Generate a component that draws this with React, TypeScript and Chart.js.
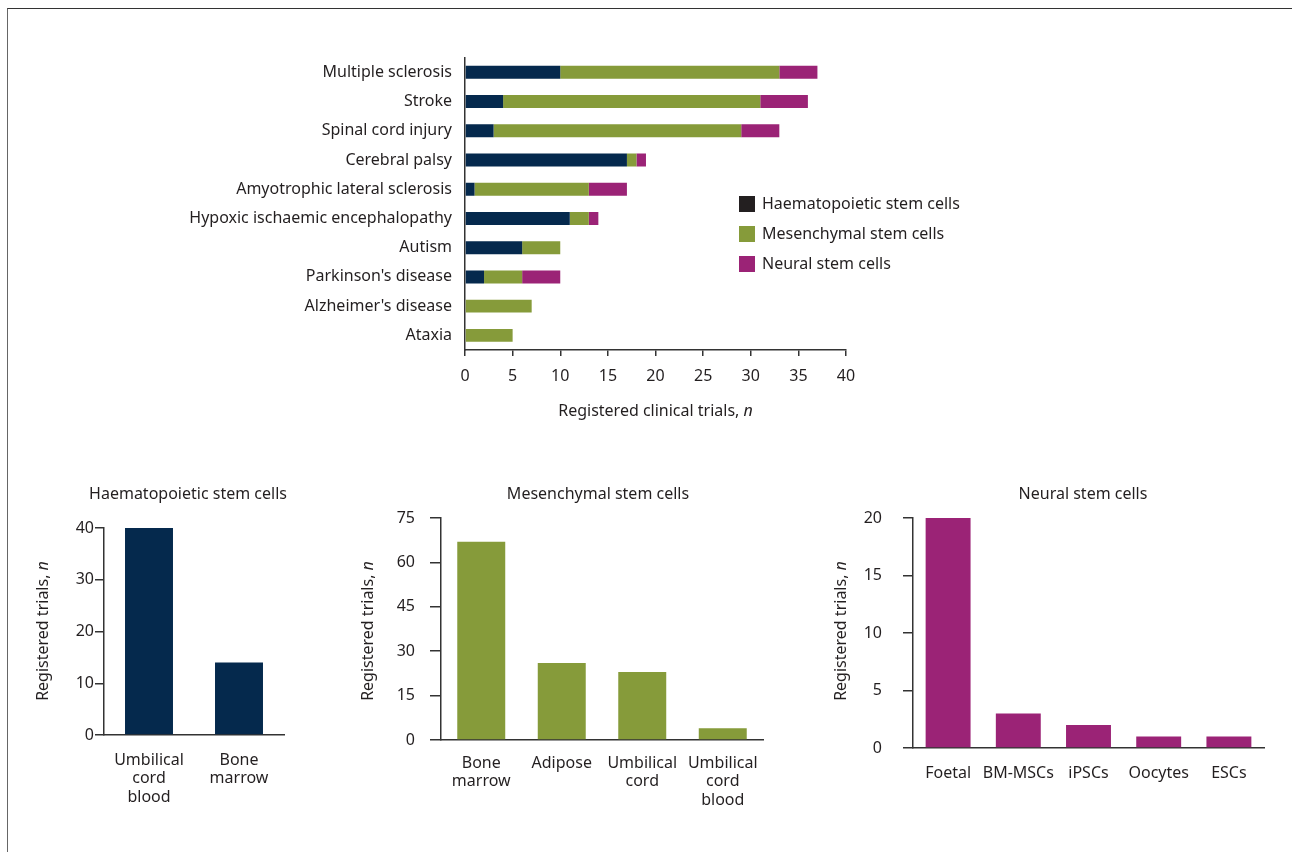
import React, { useEffect, useRef } from "react";
import { Chart, registerables } from "chart.js";

Chart.register(...registerables);

const FONT = "'Noto Sans', sans-serif";
const FS = 16;
const TEXT = "#231f20";
const AXIS = "#333333";
const NAVY = "#05294d";
const GREEN = "#869b3a";
const PURPLE = "#9b2376";
const LEGEND_DARK = "#231f20";

// ---- Top chart data ----
const diseases = [
  "Multiple sclerosis",
  "Stroke",
  "Spinal cord injury",
  "Cerebral palsy",
  "Amyotrophic lateral sclerosis",
  "Hypoxic ischaemic encephalopathy",
  "Autism",
  "Parkinson's disease",
  "Alzheimer's disease",
  "Ataxia",
];
const haemByDisease = [10, 4, 3, 17, 1, 11, 6, 2, 0, 0];
const mesByDisease = [23, 27, 26, 1, 12, 2, 4, 4, 7, 5];
const neuralByDisease = [4, 5, 4, 1, 4, 1, 0, 4, 0, 0];
const seriesNames = ["Haematopoietic stem cells", "Mesenchymal stem cells", "Neural stem cells"];

// ---- Bottom charts data ----
const haemSources = [["Umbilical", "cord", "blood"], ["Bone", "marrow"]];
const haemCounts = [40, 14];
const mesSources = [["Bone", "marrow"], ["Adipose"], ["Umbilical", "cord"], ["Umbilical", "cord", "blood"]];
const mesCounts = [67, 26, 23, 4];
const neuralSources = ["Foetal", "BM-MSCs", "iPSCs", "Oocytes", "ESCs"];
const neuralCounts = [20, 3, 2, 1, 1];

type Part = { t: string; italic?: boolean };

function drawParts(ctx: CanvasRenderingContext2D, parts: Part[], x: number, y: number, size: number, rotate = false) {
  ctx.save();
  ctx.translate(x, y);
  if (rotate) ctx.rotate(-Math.PI / 2);
  const fonts = parts.map((p) => `${p.italic ? "italic " : ""}${size}px ${FONT}`);
  let total = 0;
  const widths = parts.map((p, i) => {
    ctx.font = fonts[i];
    const w = ctx.measureText(p.t).width;
    total += w;
    return w;
  });
  let cx = -total / 2;
  ctx.fillStyle = TEXT;
  ctx.textBaseline = "middle";
  ctx.textAlign = "left";
  parts.forEach((p, i) => {
    ctx.font = fonts[i];
    ctx.fillText(p.t, cx, 0);
    cx += widths[i];
  });
  ctx.restore();
}

function ChartBox({ left, top, width, height, make }: any) {
  const ref = useRef<HTMLCanvasElement | null>(null);
  useEffect(() => {
    if (!ref.current) return;
    const chart = new Chart(ref.current, make());
    return () => chart.destroy();
  }, []);
  return (
    <div style={{ position: "absolute", left, top, width, height }}>
      <canvas ref={ref} width={width} height={height} style={{ width, height, display: "block" }} />
    </div>
  );
}

const tickFont = { family: FONT, size: FS };
const catFont = { family: FONT, size: FS, lineHeight: 1.16 };

function makeTop() {
  const overlay = {
    id: "topOverlay",
    afterDraw(chart: any) {
      const ctx = chart.ctx as CanvasRenderingContext2D;
      drawParts(ctx, [{ t: "Registered clinical trials, " }, { t: "n", italic: true }], 485.5, 376, FS);
      const colors = [LEGEND_DARK, GREEN, PURPLE];
      const ys = [169, 199, 229];
      seriesNames.forEach((name, i) => {
        ctx.save();
        ctx.fillStyle = colors[i];
        ctx.fillRect(569, ys[i] - 8, 16, 16);
        ctx.fillStyle = TEXT;
        ctx.font = `${FS}px ${FONT}`;
        ctx.textBaseline = "middle";
        ctx.textAlign = "left";
        ctx.fillText(name, 592, ys[i]);
        ctx.restore();
      });
    },
  };
  return {
    type: "bar",
    data: {
      labels: diseases,
      datasets: [
        { label: seriesNames[0], data: haemByDisease, backgroundColor: NAVY },
        { label: seriesNames[1], data: mesByDisease, backgroundColor: GREEN },
        { label: seriesNames[2], data: neuralByDisease, backgroundColor: PURPLE },
      ],
    },
    options: {
      indexAxis: "y",
      animation: false,
      responsive: false,
      maintainAspectRatio: false,
      layout: { padding: { top: 0, right: 154, left: 0, bottom: 0 } },
      datasets: { bar: { barPercentage: 0.443, categoryPercentage: 1 } },
      plugins: { legend: { display: false }, tooltip: { enabled: false } },
      scales: {
        x: {
          stacked: true,
          min: 0,
          max: 40,
          ticks: { stepSize: 5, padding: 11, color: TEXT, font: tickFont, maxRotation: 0 },
          grid: { drawOnChartArea: false, drawTicks: true, tickLength: 6, color: AXIS, lineWidth: 1.5 },
          border: { display: true, color: AXIS, width: 1.5 },
          afterFit: (s: any) => {
            s.height = 85;
          },
        },
        y: {
          stacked: true,
          ticks: { padding: 13, color: TEXT, font: tickFont, autoSkip: false },
          grid: { display: false, drawTicks: false },
          border: { display: true, color: AXIS, width: 1.5 },
          afterFit: (s: any) => {
            s.width = 295;
          },
        },
      },
    },
    plugins: [overlay],
  };
}

function makeSmall(opts: {
  labels: any[];
  values: number[];
  color: string;
  max: number;
  step: number;
  title: string;
  titleX: number;
  yTitleX: number;
  yWidth: number;
  padTop: number;
  padRight: number;
  xHeight: number;
  tickLen: number;
  tickPad: number;
  xPad: number;
  barPct: number;
}) {
  const overlay = {
    id: "smallOverlay",
    afterDraw(chart: any) {
      const ctx = chart.ctx as CanvasRenderingContext2D;
      drawParts(ctx, [{ t: opts.title }], opts.titleX, 19, FS);
      drawParts(ctx, [{ t: "Registered trials, " }, { t: "n", italic: true }], opts.yTitleX, 156, FS, true);
    },
  };
  return {
    type: "bar",
    data: {
      labels: opts.labels,
      datasets: [{ label: opts.title, data: opts.values, backgroundColor: opts.color }],
    },
    options: {
      animation: false,
      responsive: false,
      maintainAspectRatio: false,
      layout: { padding: { top: opts.padTop, right: opts.padRight, left: 0, bottom: 0 } },
      datasets: { bar: { barPercentage: opts.barPct, categoryPercentage: 1 } },
      plugins: { legend: { display: false }, tooltip: { enabled: false } },
      scales: {
        x: {
          ticks: { padding: opts.xPad, color: TEXT, font: catFont, maxRotation: 0, autoSkip: false },
          grid: { display: false, drawTicks: false },
          border: { display: true, color: AXIS, width: 1.5 },
          afterFit: (s: any) => {
            s.height = opts.xHeight;
          },
        },
        y: {
          min: 0,
          max: opts.max,
          ticks: { stepSize: opts.step, padding: opts.tickPad, color: TEXT, font: tickFont },
          grid: { drawOnChartArea: false, drawTicks: true, tickLength: opts.tickLen, color: AXIS, lineWidth: 1.5 },
          border: { display: true, color: AXIS, width: 1.5 },
          afterFit: (s: any) => {
            s.width = opts.yWidth;
          },
        },
      },
    },
    plugins: [overlay],
  };
}

export default function App() {
  return (
    <div
      style={{
        position: "absolute",
        left: 0,
        top: 0,
        width: 1292,
        height: 852,
        overflow: "hidden",
        background: "#fff",
        fontFamily: FONT,
      }}
    >
      <div
        style={{
          position: "absolute",
          left: 7,
          top: 8,
          width: 1285,
          height: 844,
          borderTop: "1.5px solid #333",
          borderLeft: "1px solid #666",
        }}
      />
      <ChartBox left={170} top={35} width={830} height={400} make={makeTop} />
      <ChartBox
        left={20}
        top={475}
        width={280}
        height={350}
        make={() =>
          makeSmall({
            labels: haemSources,
            values: haemCounts,
            color: NAVY,
            max: 40,
            step: 10,
            title: "Haematopoietic stem cells",
            titleX: 168,
            yTitleX: 23,
            yWidth: 84,
            padTop: 53,
            padRight: 16,
            xHeight: 90,
            tickLen: 9,
            tickPad: 1,
            xPad: 16,
            barPct: 0.533,
          })
        }
      />
      <ChartBox
        left={330}
        top={475}
        width={450}
        height={350}
        make={() =>
          makeSmall({
            labels: mesSources,
            values: mesCounts,
            color: GREEN,
            max: 75,
            step: 15,
            title: "Mesenchymal stem cells",
            titleX: 268,
            yTitleX: 38,
            yWidth: 111,
            padTop: 43,
            padRight: 17,
            xHeight: 85,
            tickLen: 11,
            tickPad: 15,
            xPad: 14,
            barPct: 0.596,
          })
        }
      />
      <ChartBox
        left={800}
        top={475}
        width={480}
        height={360}
        make={() =>
          makeSmall({
            labels: neuralSources,
            values: neuralCounts,
            color: PURPLE,
            max: 20,
            step: 5,
            title: "Neural stem cells",
            titleX: 283,
            yTitleX: 41,
            yWidth: 113,
            padTop: 43,
            padRight: 16,
            xHeight: 87,
            tickLen: 10,
            tickPad: 21,
            xPad: 16,
            barPct: 0.64,
          })
        }
      />
    </div>
  );
}
